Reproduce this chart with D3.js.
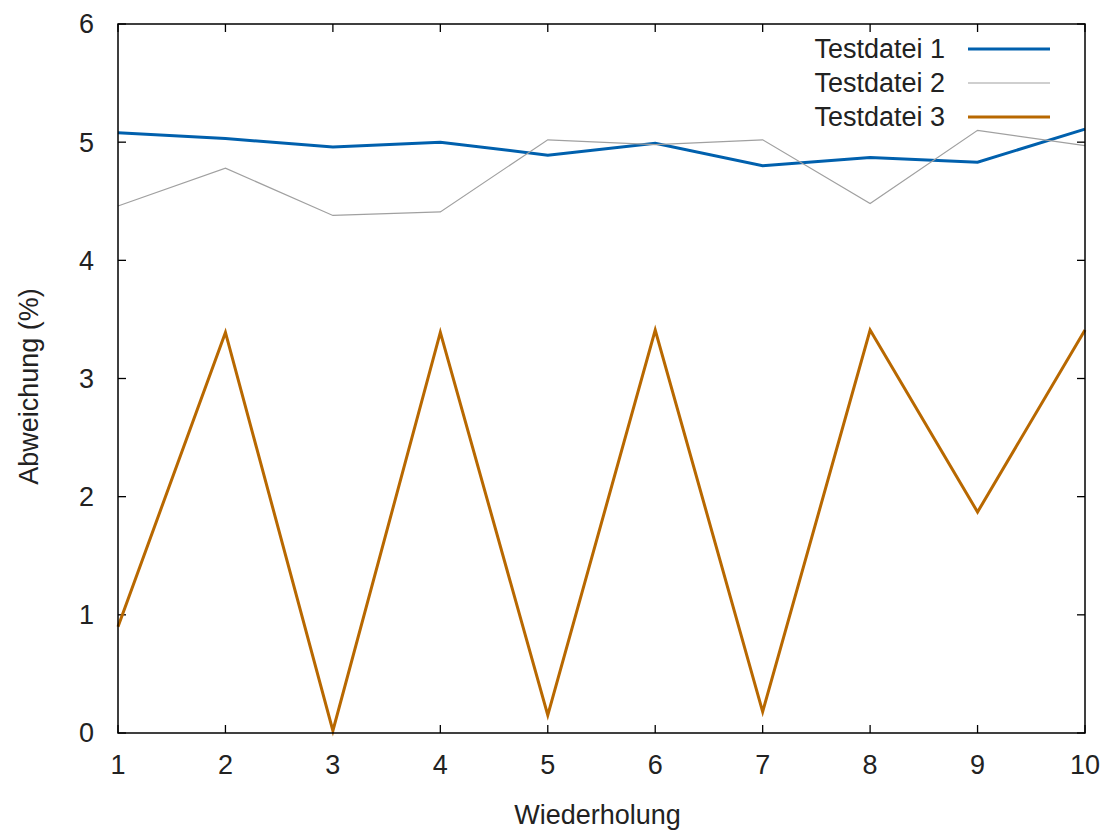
<!DOCTYPE html>
<html>
<head>
<meta charset="utf-8">
<script src="https://cdn.jsdelivr.net/npm/d3@7"></script>
<style>
  body { margin: 0; background: #fff; }
  text { font-family: "Liberation Sans", Arial, sans-serif; fill: #222; }
</style>
</head>
<body>
<svg id="chart" width="1109" height="830"></svg>
<script>
// values
var runs = [1, 2, 3, 4, 5, 6, 7, 8, 9, 10];
var testdatei1 = [5.08, 5.03, 4.96, 5.00, 4.89, 4.99, 4.80, 4.87, 4.83, 5.11];
var testdatei2 = [4.46, 4.78, 4.38, 4.41, 5.02, 4.98, 5.02, 4.48, 5.10, 4.97];
var testdatei3 = [0.90, 3.39, 0.02, 3.39, 0.15, 3.41, 0.18, 3.41, 1.87, 3.41];
var seriesNames = ["Testdatei 1", "Testdatei 2", "Testdatei 3"];
var yTicks = [0, 1, 2, 3, 4, 5, 6];

var colors = ["#0060ad", "#a0a0a0", "#b86800"];
var widths = [3, 1.2, 3];

var svg = d3.select("#chart");
// note: "top" is taken by window.top, so use other names
var pLeft = 118, pRight = 1085, pTop = 24, pBottom = 733;
var tickLen = 8;

var x = d3.scaleLinear().domain([1, 10]).range([pLeft, pRight]);
var y = d3.scaleLinear().domain([0, 6]).range([pBottom, pTop]);

// ticks (inward, mirrored on all sides)
var ticks = svg.append("g").attr("stroke", "#000").attr("stroke-width", 1.3);
runs.forEach(function(r) {
	ticks.append("line").attr("x1", x(r)).attr("x2", x(r)).attr("y1", pBottom).attr("y2", pBottom - tickLen);
	ticks.append("line").attr("x1", x(r)).attr("x2", x(r)).attr("y1", pTop).attr("y2", pTop + tickLen);
});
yTicks.forEach(function(t) {
	ticks.append("line").attr("x1", pLeft).attr("x2", pLeft + tickLen).attr("y1", y(t)).attr("y2", y(t));
	ticks.append("line").attr("x1", pRight).attr("x2", pRight - tickLen).attr("y1", y(t)).attr("y2", y(t));
});

// tick labels
svg.append("g").selectAll("text")
	.data(runs)
	.enter().append("text")
	.attr("x", function(d) { return x(d); })
	.attr("y", pBottom + 32)
	.attr("dy", "0.35em")
	.attr("text-anchor", "middle")
	.style("font-size", "27px")
	.text(function(d) { return d; });

svg.append("g").selectAll("text")
	.data(yTicks)
	.enter().append("text")
	.attr("x", pLeft - 24)
	.attr("y", function(d) { return y(d); })
	.attr("dy", "0.35em")
	.attr("text-anchor", "end")
	.style("font-size", "27px")
	.text(function(d) { return d; });

// axis titles
svg.append("text")
	.attr("x", (pLeft + pRight) / 2 - 4)
	.attr("y", 824)
	.attr("text-anchor", "middle")
	.style("font-size", "27px")
	.text("Wiederholung");

svg.append("text")
	.attr("transform", "translate(38," + ((pTop + pBottom) / 2 + 8) + ") rotate(-90)")
	.attr("text-anchor", "middle")
	.style("font-size", "27px")
	.text("Abweichung (%)");

// data lines
var line = d3.line()
	.x(function(d, i) { return x(runs[i]); })
	.y(function(d) { return y(d); });

var allSeries = [testdatei1, testdatei2, testdatei3];
svg.append("g").selectAll("path")
	.data(allSeries)
	.enter().append("path")
	.attr("d", line)
	.attr("fill", "none")
	.attr("stroke", function(d, i) { return colors[i]; })
	.attr("stroke-width", function(d, i) { return widths[i]; })
	.attr("stroke-linejoin", "miter");

// border
svg.append("rect")
	.attr("x", pLeft)
	.attr("y", pTop)
	.attr("width", pRight - pLeft)
	.attr("height", pBottom - pTop)
	.attr("fill", "none")
	.attr("stroke", "#000")
	.attr("stroke-width", 1.5);

// legend
var legend = svg.append("g").selectAll("g")
	.data(seriesNames)
	.enter().append("g")
	.attr("transform", function(d, i) { return "translate(0," + (49 + i * 34) + ")"; });

legend.append("text")
	.attr("x", 945)
	.attr("dy", "0.35em")
	.attr("text-anchor", "end")
	.style("font-size", "27px")
	.text(function(d) { return d; });

legend.append("line")
	.attr("x1", 968)
	.attr("x2", 1050)
	.attr("stroke", function(d, i) { return colors[i]; })
	.attr("stroke-width", function(d, i) { return widths[i]; });
</script>
</body>
</html>
